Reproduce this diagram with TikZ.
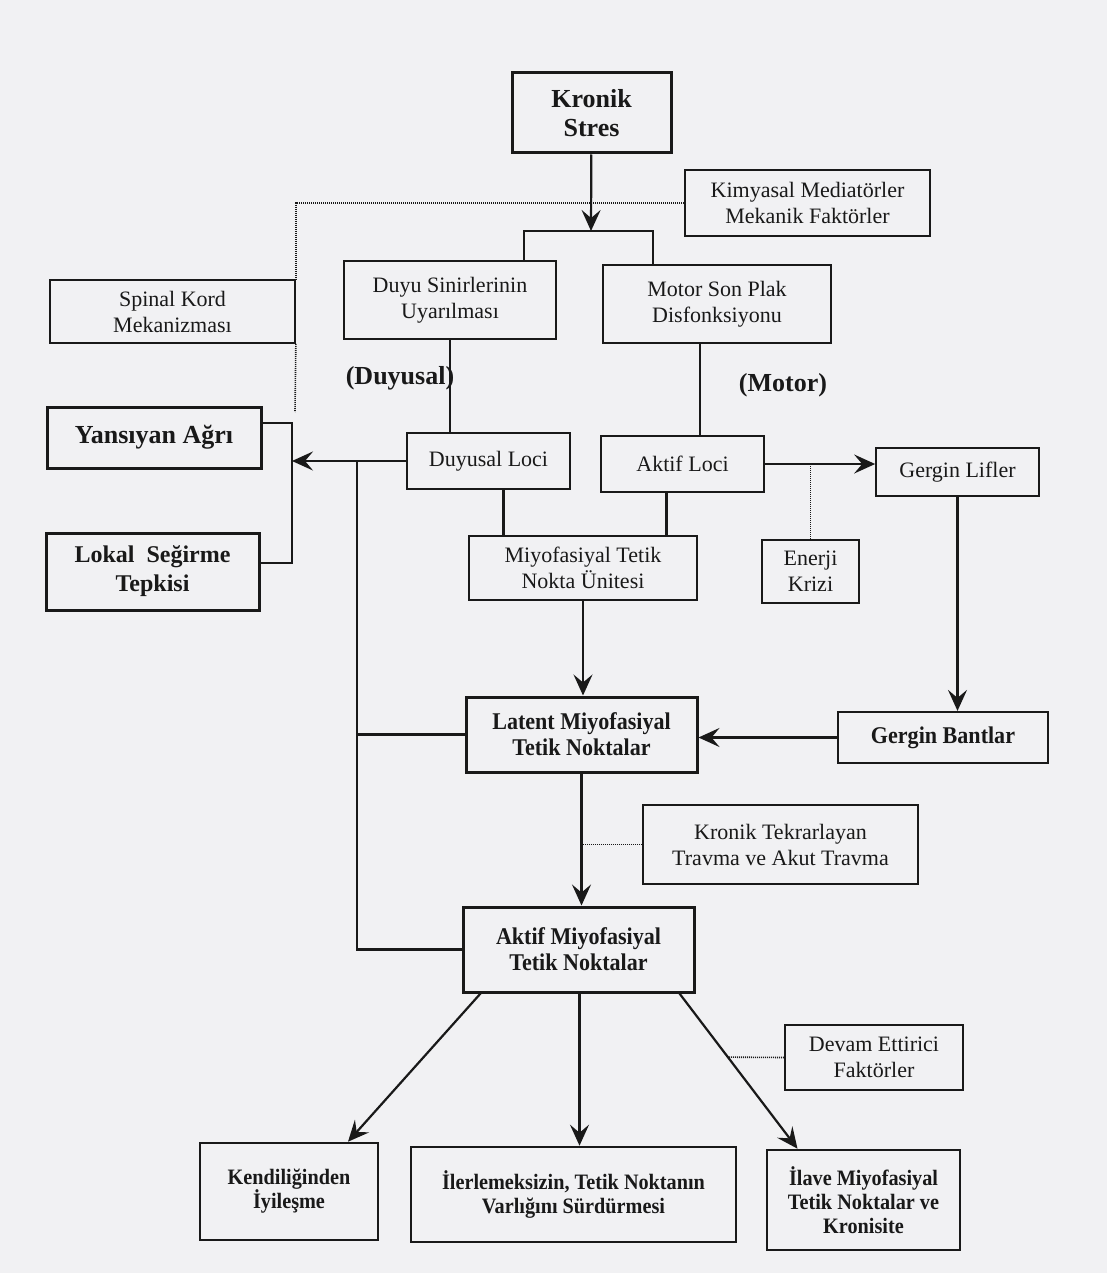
\documentclass[tikz,border=0pt]{standalone}
\usepackage{fontspec}
\setmainfont{Liberation Serif}
\newfontfamily\condfont[FakeStretch=0.92]{Liberation Serif}
\usetikzlibrary{arrows.meta}

\definecolor{paper}{RGB}{241,241,243}
\definecolor{ink}{RGB}{25,25,25}

\tikzset{
  box/.style={draw=ink, line width=1.7pt, align=center, inner sep=0pt, text=ink,
    font=\fontsize{22}{26}\selectfont},
  boldbox/.style={box, line width=3pt, font=\fontsize{26}{29}\selectfont\bfseries},
  condbox/.style={box, line width=3pt, font=\condfont\fontsize{24}{26}\selectfont\bfseries},
  endbox/.style={condbox, line width=2.6pt, font=\condfont\fontsize{22}{24}\selectfont\bfseries},
  tag/.style={text=ink, inner sep=0pt, font=\fontsize{26}{29}\selectfont\bfseries},
  conn/.style={draw=ink, line width=2.2pt},
  arr/.style={conn, -{Stealth[length=21pt,width=19pt,inset=8pt]}},
  dotline/.style={draw=ink, line width=1.6pt, dash pattern=on 1pt off 1pt},
}

\begin{document}
\begin{tikzpicture}[x=1pt,y=1pt,yscale=-1,xscale=1]
\useasboundingbox (0,0) rectangle (1107,1273);
\fill[paper] (0,0) rectangle (1107,1273);

% Box: top
\node[boldbox, minimum width=159pt, minimum height=80pt] (kronik) at (591.5,113) {Kronik\\Stres};
\node[box, minimum width=245pt, minimum height=66pt] (kimya) at (807.5,203) {Kimyasal Mediatörler\\Mekanik Faktörler};
\node[box, minimum width=245pt, minimum height=63pt] (spinal) at (172.5,311.5) {Spinal Kord\\Mekanizması};
\node[box, minimum width=212pt, minimum height=78pt] (duyu) at (450,300) {Duyu Sinirlerinin\\Uyarılması};
\node[box, minimum width=228pt, minimum height=78pt] (motor) at (717,304) {Motor Son Plak\\Disfonksiyonu};

% Text Node
\node[tag] (duyusal) at (400,378) {(Duyusal)};
% Text Node
\node[tag] (motortag) at (783,385) {(Motor)};

% Box: left side
\node[boldbox, minimum width=214pt, minimum height=61pt] (yansi) at (154,437.5) {Yansıyan Ağrı};
\node[boldbox, minimum width=213pt, minimum height=77pt, font=\fontsize{24}{29}\selectfont\bfseries] (lokal) at (152.5,571.5) {Lokal\ \ Seğirme\\Tepkisi};

% Box: loci
\node[box, minimum width=163pt, minimum height=56pt] (dloci) at (488.5,461) {Duyusal Loci};
\node[box, minimum width=163pt, minimum height=56pt] (aloci) at (682.5,464) {Aktif Loci};
\node[box, minimum width=163pt, minimum height=48pt] (glifler) at (957.5,472) {Gergin Lifler};
\node[box, minimum width=228pt, minimum height=64pt] (miyo) at (583,568) {Miyofasiyal Tetik\\Nokta Ünitesi};
\node[box, minimum width=97pt, minimum height=63pt] (enerji) at (810.5,571.5) {Enerji\\Krizi};

% Box: trigger points
\node[condbox, minimum width=231pt, minimum height=75pt] (latent) at (581.5,734.5) {Latent Miyofasiyal\\Tetik Noktalar};
\node[condbox, line width=2.2pt, minimum width=210pt, minimum height=51pt] (gbant) at (943,737.5) {Gergin Bantlar};
\node[box, minimum width=275pt, minimum height=79pt] (travma) at (780.5,844.5) {Kronik Tekrarlayan\\Travma ve Akut Travma};
\node[condbox, minimum width=231pt, minimum height=85pt] (aktif) at (578.5,949.5) {Aktif Miyofasiyal\\Tetik Noktalar};
\node[box, minimum width=178pt, minimum height=65pt] (devam) at (874,1057.5) {Devam Ettirici\\Faktörler};

% Box: outcomes
\node[endbox, minimum width=178pt, minimum height=97pt] (kendi) at (289,1191.5) {Kendiliğinden\\İyileşme};
\node[endbox, minimum width=325pt, minimum height=95pt] (ilerle) at (573.5,1194.5) {İlerlemeksizin, Tetik Noktanın\\Varlığını Sürdürmesi};
\node[endbox, minimum width=193pt, minimum height=100pt] (ilave) at (863.5,1200) {İlave Miyofasiyal\\Tetik Noktalar ve\\Kronisite};

% Connectors: top split
\coordinate (split) at (591,231);
\coordinate (legL) at (524,231);
\coordinate (legR) at (653,231);
\draw[arr] (kronik) -- (split);
\draw[conn] (legL |- duyu.north) -- (legL) -- (legR) -- (legR |- motor.north);
\draw[dotline] (kimya.west) -| (spinal.north east);
\coordinate (dotend) at (295,412);
\draw[dotline] (spinal.south east) -- (dotend);

% Connectors: sensory and motor
\draw[conn] (duyu.south) -- (duyu.south |- dloci.north);
\draw[conn] ([xshift=-17pt]motor.south) -- ([xshift=-17pt]motor.south |- aloci.north);
\coordinate (brkT) at (292,423);
\coordinate (brkB) at (292,563);
\draw[conn] (brkT -| yansi.east) -- (brkT) -- (brkB) -- (brkB -| lokal.east);
\draw[arr] (dloci.west) -- (dloci.west -| brkT);
\coordinate (trunk) at (357,461);
\draw[conn] (trunk) |- (aktif.west);
\draw[conn] (trunk |- latent.west) -- (latent.west);
\draw[conn] ([xshift=15pt]dloci.south) -- ([xshift=15pt]dloci.south |- miyo.north);
\draw[conn] ([xshift=-16pt]aloci.south) -- ([xshift=-16pt]aloci.south |- miyo.north);
\draw[arr] (aloci.east) -- (aloci.east -| glifler.west);
\draw[dotline] (enerji.north) -- (enerji.north |- aloci.east);

% Connectors: trigger points
\draw[arr] (miyo.south) -- (miyo.south |- latent.north);
\draw[arr] (glifler.south) -- (glifler.south |- gbant.north);
\draw[arr] (gbant.west) -- (gbant.west -| latent.east);
\draw[arr] (latent.south) -- (latent.south |- aktif.north);
\draw[dotline] (travma.west) -- (travma.west -| latent.south);

% Connectors: outcomes
\draw[arr] ([xshift=-98pt]aktif.south) -- ([xshift=59pt]kendi.north);
\draw[arr] ([xshift=1pt]aktif.south) -- ([xshift=1pt]aktif.south |- ilerle.north);
\draw[arr] ([xshift=101pt]aktif.south) -- coordinate[pos=0.41] (dv) ([xshift=-66pt]ilave.north);
\draw[dotline] (devam.west) -- (dv);

\end{tikzpicture}
\end{document}
